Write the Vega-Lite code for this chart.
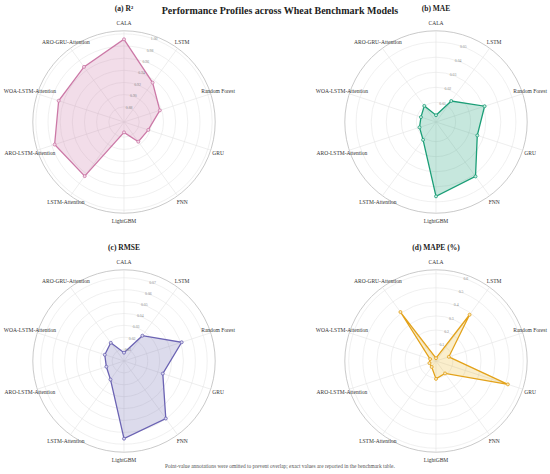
{
  "$schema": "https://vega.github.io/schema/vega-lite/v6.json",
  "background": "white",
  "padding": {"left": 3, "right": 0, "top": 4, "bottom": 2},
  "datasets": {
    "models": [
      {"model": "CALA", "r2": 0.991, "mae": 0.0015, "rmse": 0.007, "mape": 0.0},
      {"model": "LSTM", "r2": 0.935, "mae": 0.0142, "rmse": 0.0263, "mape": 0.386},
      {"model": "Random Forest", "r2": 0.917, "mae": 0.0309, "rmse": 0.051, "mape": 0.076},
      {"model": "GRU", "r2": 0.897, "mae": 0.0258, "rmse": 0.0343, "mape": 0.517},
      {"model": "FNN", "r2": 0.895, "mae": 0.0416, "rmse": 0.0598, "mape": 0.089},
      {"model": "LightGBM", "r2": 0.872, "mae": 0.0463, "rmse": 0.0653, "mape": 0.107},
      {"model": "LSTM-Attention", "r2": 0.965, "mae": 0.0116, "rmse": 0.0193, "mape": 0.032},
      {"model": "ARO-LSTM-Attention", "r2": 0.975, "mae": 0.0085, "rmse": 0.0156, "mape": 0.029},
      {"model": "WOA-LSTM-Attention", "r2": 0.968, "mae": 0.0075, "rmse": 0.017, "mape": 0.024},
      {"model": "ARO-GRU-Attention", "r2": 0.967, "mae": 0.0102, "rmse": 0.0189, "mape": 0.41}
    ],
    "ticks_r2": [{"v": 0.88}, {"v": 0.90}, {"v": 0.92}, {"v": 0.94}, {"v": 0.96}, {"v": 0.98}, {"v": 1.00}],
    "ticks_mae": [{"v": 0.01}, {"v": 0.02}, {"v": 0.03}, {"v": 0.04}, {"v": 0.05}],
    "ticks_rmse": [{"v": 0.01}, {"v": 0.02}, {"v": 0.03}, {"v": 0.04}, {"v": 0.05}, {"v": 0.06}, {"v": 0.07}],
    "ticks_mape": [{"v": 0.1}, {"v": 0.2}, {"v": 0.3}, {"v": 0.4}, {"v": 0.5}, {"v": 0.6}]
  },
  "title": {
    "text": "Performance Profiles across Wheat Benchmark Models",
    "anchor": "middle",
    "fontSize": 10,
    "offset": -11
  },
  "vconcat": [
    {
      "title": {
        "text": "Point-value annotations were omitted to prevent overlap; exact values are reported in the benchmark table.",
        "orient": "bottom",
        "anchor": "middle",
        "fontSize": 5.4,
        "fontWeight": "normal",
        "color": "#555555",
        "offset": 0
      },
      "spacing": 18,
      "vconcat": [
        {
          "spacing": 71,
          "hconcat": [
            {
              "width": 240,
              "height": 206,
              "title": "(a) R²",
              "layer": [
                {
                  "data": {"name": "ticks_r2"},
                  "transform": [{"calculate": "(datum.v - 0.855) / 0.15", "as": "r"}],
                  "mark": {"type": "point", "shape": "circle", "filled": false, "stroke": "#e6e6e6", "strokeWidth": 0.6, "opacity": 1},
                  "encoding": {
                    "x": {"datum": 0, "type": "quantitative", "scale": {"domain": [-1.316, 1.316], "nice": false, "zero": false}, "axis": null},
                    "y": {"datum": 0, "type": "quantitative", "scale": {"domain": [-1.129, 1.129], "nice": false, "zero": false}, "axis": null},
                    "size": {"field": "r", "type": "quantitative", "scale": {"type": "pow", "exponent": 2, "domain": [0, 1], "range": [0, 33270], "zero": true}, "legend": null}
                  }
                },
                {
                  "data": {"values": [{"ring": "outer"}]},
                  "mark": {"type": "point", "shape": "circle", "filled": false, "stroke": "#c4c4c4", "strokeWidth": 0.9, "opacity": 1},
                  "encoding": {
                    "x": {"datum": 0, "type": "quantitative", "scale": {"domain": [-1.316, 1.316], "nice": false, "zero": false}, "axis": null},
                    "y": {"datum": 0, "type": "quantitative", "scale": {"domain": [-1.129, 1.129], "nice": false, "zero": false}, "axis": null},
                    "size": {"datum": 1, "type": "quantitative", "scale": {"type": "pow", "exponent": 2, "domain": [0, 1], "range": [0, 33270], "zero": true}, "legend": null}
                  }
                },
                {
                  "data": {"name": "models"},
                  "transform": [
                    {"window": [{"op": "row_number", "as": "i"}]},
                    {"calculate": "(datum.i - 1) * PI / 5", "as": "a"},
                    {"calculate": "(datum.r2 - 0.855) / 0.15", "as": "r"},
                    {"calculate": "datum.r * sin(datum.a)", "as": "px"},
                    {"calculate": "datum.r * cos(datum.a)", "as": "py"},
                    {"calculate": "sin(datum.a)", "as": "sx"},
                    {"calculate": "cos(datum.a)", "as": "sy"},
                    {"calculate": "1.085 * sin(datum.a)", "as": "lx"},
                    {"calculate": "1.085 * cos(datum.a)", "as": "ly"}
                  ],
                  "layer": [
                    {
                      "mark": {"type": "rule", "stroke": "#e3e3e3", "strokeWidth": 0.6},
                      "encoding": {
                        "x": {"field": "sx", "type": "quantitative", "scale": {"domain": [-1.316, 1.316], "nice": false, "zero": false}, "axis": null},
                        "y": {"field": "sy", "type": "quantitative", "scale": {"domain": [-1.129, 1.129], "nice": false, "zero": false}, "axis": null},
                        "x2": {"datum": 0},
                        "y2": {"datum": 0}
                      }
                    },
                    {
                      "mark": {"type": "line", "interpolate": "linear-closed", "stroke": "#CC79A7", "strokeWidth": 1.3, "fill": "#CC79A7", "fillOpacity": 0.25},
                      "encoding": {
                        "x": {"field": "px", "type": "quantitative", "scale": {"domain": [-1.316, 1.316], "nice": false, "zero": false}, "axis": null},
                        "y": {"field": "py", "type": "quantitative", "scale": {"domain": [-1.129, 1.129], "nice": false, "zero": false}, "axis": null},
                        "order": {"field": "i", "type": "quantitative"}
                      }
                    },
                    {
                      "mark": {"type": "point", "filled": true, "shape": "circle", "size": 9, "fill": "#f2dbe8", "stroke": "#CC79A7", "strokeWidth": 0.8, "opacity": 1},
                      "encoding": {
                        "x": {"field": "px", "type": "quantitative", "scale": {"domain": [-1.316, 1.316], "nice": false, "zero": false}, "axis": null},
                        "y": {"field": "py", "type": "quantitative", "scale": {"domain": [-1.129, 1.129], "nice": false, "zero": false}, "axis": null}
                      }
                    },
                    {
                      "mark": {"type": "text", "fontSize": 5.5, "fill": "#333333"},
                      "encoding": {
                        "x": {"field": "lx", "type": "quantitative", "scale": {"domain": [-1.316, 1.316], "nice": false, "zero": false}, "axis": null},
                        "y": {"field": "ly", "type": "quantitative", "scale": {"domain": [-1.129, 1.129], "nice": false, "zero": false}, "axis": null},
                        "text": {"field": "model"}
                      }
                    }
                  ]
                },
                {
                  "data": {"name": "ticks_r2"},
                  "transform": [
                    {"calculate": "(datum.v - 0.855) / 0.15", "as": "r"},
                    {"calculate": "datum.r * 0.342", "as": "tx"},
                    {"calculate": "datum.r * 0.94", "as": "ty"},
                    {"calculate": "format(datum.v, '.2f')", "as": "t"}
                  ],
                  "mark": {"type": "text", "fontSize": 3.8, "fill": "#8a8a8a"},
                  "encoding": {
                    "x": {"field": "tx", "type": "quantitative", "scale": {"domain": [-1.316, 1.316], "nice": false, "zero": false}, "axis": null},
                    "y": {"field": "ty", "type": "quantitative", "scale": {"domain": [-1.129, 1.129], "nice": false, "zero": false}, "axis": null},
                    "text": {"field": "t"}
                  }
                }
              ]
            },
            {
              "width": 240,
              "height": 206,
              "title": "(b) MAE",
              "layer": [
                {
                  "data": {"name": "ticks_mae"},
                  "transform": [{"calculate": "(datum.v + 0.003) / 0.0605", "as": "r"}],
                  "mark": {"type": "point", "shape": "circle", "filled": false, "stroke": "#e6e6e6", "strokeWidth": 0.6, "opacity": 1},
                  "encoding": {
                    "x": {"datum": 0, "type": "quantitative", "scale": {"domain": [-1.316, 1.316], "nice": false, "zero": false}, "axis": null},
                    "y": {"datum": 0, "type": "quantitative", "scale": {"domain": [-1.129, 1.129], "nice": false, "zero": false}, "axis": null},
                    "size": {"field": "r", "type": "quantitative", "scale": {"type": "pow", "exponent": 2, "domain": [0, 1], "range": [0, 33270], "zero": true}, "legend": null}
                  }
                },
                {
                  "data": {"values": [{"ring": "outer"}]},
                  "mark": {"type": "point", "shape": "circle", "filled": false, "stroke": "#c4c4c4", "strokeWidth": 0.9, "opacity": 1},
                  "encoding": {
                    "x": {"datum": 0, "type": "quantitative", "scale": {"domain": [-1.316, 1.316], "nice": false, "zero": false}, "axis": null},
                    "y": {"datum": 0, "type": "quantitative", "scale": {"domain": [-1.129, 1.129], "nice": false, "zero": false}, "axis": null},
                    "size": {"datum": 1, "type": "quantitative", "scale": {"type": "pow", "exponent": 2, "domain": [0, 1], "range": [0, 33270], "zero": true}, "legend": null}
                  }
                },
                {
                  "data": {"name": "models"},
                  "transform": [
                    {"window": [{"op": "row_number", "as": "i"}]},
                    {"calculate": "(datum.i - 1) * PI / 5", "as": "a"},
                    {"calculate": "(datum.mae + 0.003) / 0.0605", "as": "r"},
                    {"calculate": "datum.r * sin(datum.a)", "as": "px"},
                    {"calculate": "datum.r * cos(datum.a)", "as": "py"},
                    {"calculate": "sin(datum.a)", "as": "sx"},
                    {"calculate": "cos(datum.a)", "as": "sy"},
                    {"calculate": "1.085 * sin(datum.a)", "as": "lx"},
                    {"calculate": "1.085 * cos(datum.a)", "as": "ly"}
                  ],
                  "layer": [
                    {
                      "mark": {"type": "rule", "stroke": "#e3e3e3", "strokeWidth": 0.6},
                      "encoding": {
                        "x": {"field": "sx", "type": "quantitative", "scale": {"domain": [-1.316, 1.316], "nice": false, "zero": false}, "axis": null},
                        "y": {"field": "sy", "type": "quantitative", "scale": {"domain": [-1.129, 1.129], "nice": false, "zero": false}, "axis": null},
                        "x2": {"datum": 0},
                        "y2": {"datum": 0}
                      }
                    },
                    {
                      "mark": {"type": "line", "interpolate": "linear-closed", "stroke": "#1b9e77", "strokeWidth": 1.3, "fill": "#1b9e77", "fillOpacity": 0.25},
                      "encoding": {
                        "x": {"field": "px", "type": "quantitative", "scale": {"domain": [-1.316, 1.316], "nice": false, "zero": false}, "axis": null},
                        "y": {"field": "py", "type": "quantitative", "scale": {"domain": [-1.129, 1.129], "nice": false, "zero": false}, "axis": null},
                        "order": {"field": "i", "type": "quantitative"}
                      }
                    },
                    {
                      "mark": {"type": "point", "filled": true, "shape": "circle", "size": 9, "fill": "#cdebe1", "stroke": "#1b9e77", "strokeWidth": 0.8, "opacity": 1},
                      "encoding": {
                        "x": {"field": "px", "type": "quantitative", "scale": {"domain": [-1.316, 1.316], "nice": false, "zero": false}, "axis": null},
                        "y": {"field": "py", "type": "quantitative", "scale": {"domain": [-1.129, 1.129], "nice": false, "zero": false}, "axis": null}
                      }
                    },
                    {
                      "mark": {"type": "text", "fontSize": 5.5, "fill": "#333333"},
                      "encoding": {
                        "x": {"field": "lx", "type": "quantitative", "scale": {"domain": [-1.316, 1.316], "nice": false, "zero": false}, "axis": null},
                        "y": {"field": "ly", "type": "quantitative", "scale": {"domain": [-1.129, 1.129], "nice": false, "zero": false}, "axis": null},
                        "text": {"field": "model"}
                      }
                    }
                  ]
                },
                {
                  "data": {"name": "ticks_mae"},
                  "transform": [
                    {"calculate": "(datum.v + 0.003) / 0.0605", "as": "r"},
                    {"calculate": "datum.r * 0.342", "as": "tx"},
                    {"calculate": "datum.r * 0.94", "as": "ty"},
                    {"calculate": "format(datum.v, '.2f')", "as": "t"}
                  ],
                  "mark": {"type": "text", "fontSize": 3.8, "fill": "#8a8a8a"},
                  "encoding": {
                    "x": {"field": "tx", "type": "quantitative", "scale": {"domain": [-1.316, 1.316], "nice": false, "zero": false}, "axis": null},
                    "y": {"field": "ty", "type": "quantitative", "scale": {"domain": [-1.129, 1.129], "nice": false, "zero": false}, "axis": null},
                    "text": {"field": "t"}
                  }
                }
              ]
            }
          ]
        },
        {
          "spacing": 71,
          "hconcat": [
            {
              "width": 240,
              "height": 206,
              "title": "(c) RMSE",
              "layer": [
                {
                  "data": {"name": "ticks_rmse"},
                  "transform": [{"calculate": "datum.v / 0.0767", "as": "r"}],
                  "mark": {"type": "point", "shape": "circle", "filled": false, "stroke": "#e6e6e6", "strokeWidth": 0.6, "opacity": 1},
                  "encoding": {
                    "x": {"datum": 0, "type": "quantitative", "scale": {"domain": [-1.316, 1.316], "nice": false, "zero": false}, "axis": null},
                    "y": {"datum": 0, "type": "quantitative", "scale": {"domain": [-1.129, 1.129], "nice": false, "zero": false}, "axis": null},
                    "size": {"field": "r", "type": "quantitative", "scale": {"type": "pow", "exponent": 2, "domain": [0, 1], "range": [0, 33270], "zero": true}, "legend": null}
                  }
                },
                {
                  "data": {"values": [{"ring": "outer"}]},
                  "mark": {"type": "point", "shape": "circle", "filled": false, "stroke": "#c4c4c4", "strokeWidth": 0.9, "opacity": 1},
                  "encoding": {
                    "x": {"datum": 0, "type": "quantitative", "scale": {"domain": [-1.316, 1.316], "nice": false, "zero": false}, "axis": null},
                    "y": {"datum": 0, "type": "quantitative", "scale": {"domain": [-1.129, 1.129], "nice": false, "zero": false}, "axis": null},
                    "size": {"datum": 1, "type": "quantitative", "scale": {"type": "pow", "exponent": 2, "domain": [0, 1], "range": [0, 33270], "zero": true}, "legend": null}
                  }
                },
                {
                  "data": {"name": "models"},
                  "transform": [
                    {"window": [{"op": "row_number", "as": "i"}]},
                    {"calculate": "(datum.i - 1) * PI / 5", "as": "a"},
                    {"calculate": "datum.rmse / 0.0767", "as": "r"},
                    {"calculate": "datum.r * sin(datum.a)", "as": "px"},
                    {"calculate": "datum.r * cos(datum.a)", "as": "py"},
                    {"calculate": "sin(datum.a)", "as": "sx"},
                    {"calculate": "cos(datum.a)", "as": "sy"},
                    {"calculate": "1.085 * sin(datum.a)", "as": "lx"},
                    {"calculate": "1.085 * cos(datum.a)", "as": "ly"}
                  ],
                  "layer": [
                    {
                      "mark": {"type": "rule", "stroke": "#e3e3e3", "strokeWidth": 0.6},
                      "encoding": {
                        "x": {"field": "sx", "type": "quantitative", "scale": {"domain": [-1.316, 1.316], "nice": false, "zero": false}, "axis": null},
                        "y": {"field": "sy", "type": "quantitative", "scale": {"domain": [-1.129, 1.129], "nice": false, "zero": false}, "axis": null},
                        "x2": {"datum": 0},
                        "y2": {"datum": 0}
                      }
                    },
                    {
                      "mark": {"type": "line", "interpolate": "linear-closed", "stroke": "#6b63b3", "strokeWidth": 1.3, "fill": "#7570b3", "fillOpacity": 0.25},
                      "encoding": {
                        "x": {"field": "px", "type": "quantitative", "scale": {"domain": [-1.316, 1.316], "nice": false, "zero": false}, "axis": null},
                        "y": {"field": "py", "type": "quantitative", "scale": {"domain": [-1.129, 1.129], "nice": false, "zero": false}, "axis": null},
                        "order": {"field": "i", "type": "quantitative"}
                      }
                    },
                    {
                      "mark": {"type": "point", "filled": true, "shape": "circle", "size": 9, "fill": "#dcdaee", "stroke": "#6b63b3", "strokeWidth": 0.8, "opacity": 1},
                      "encoding": {
                        "x": {"field": "px", "type": "quantitative", "scale": {"domain": [-1.316, 1.316], "nice": false, "zero": false}, "axis": null},
                        "y": {"field": "py", "type": "quantitative", "scale": {"domain": [-1.129, 1.129], "nice": false, "zero": false}, "axis": null}
                      }
                    },
                    {
                      "mark": {"type": "text", "fontSize": 5.5, "fill": "#333333"},
                      "encoding": {
                        "x": {"field": "lx", "type": "quantitative", "scale": {"domain": [-1.316, 1.316], "nice": false, "zero": false}, "axis": null},
                        "y": {"field": "ly", "type": "quantitative", "scale": {"domain": [-1.129, 1.129], "nice": false, "zero": false}, "axis": null},
                        "text": {"field": "model"}
                      }
                    }
                  ]
                },
                {
                  "data": {"name": "ticks_rmse"},
                  "transform": [
                    {"calculate": "datum.v / 0.0767", "as": "r"},
                    {"calculate": "datum.r * 0.342", "as": "tx"},
                    {"calculate": "datum.r * 0.94", "as": "ty"},
                    {"calculate": "format(datum.v, '.2f')", "as": "t"}
                  ],
                  "mark": {"type": "text", "fontSize": 3.8, "fill": "#8a8a8a"},
                  "encoding": {
                    "x": {"field": "tx", "type": "quantitative", "scale": {"domain": [-1.316, 1.316], "nice": false, "zero": false}, "axis": null},
                    "y": {"field": "ty", "type": "quantitative", "scale": {"domain": [-1.129, 1.129], "nice": false, "zero": false}, "axis": null},
                    "text": {"field": "t"}
                  }
                }
              ]
            },
            {
              "width": 240,
              "height": 206,
              "title": "(d) MAPE (%)",
              "layer": [
                {
                  "data": {"name": "ticks_mape"},
                  "transform": [{"calculate": "(datum.v + 0.02) / 0.648", "as": "r"}],
                  "mark": {"type": "point", "shape": "circle", "filled": false, "stroke": "#e6e6e6", "strokeWidth": 0.6, "opacity": 1},
                  "encoding": {
                    "x": {"datum": 0, "type": "quantitative", "scale": {"domain": [-1.316, 1.316], "nice": false, "zero": false}, "axis": null},
                    "y": {"datum": 0, "type": "quantitative", "scale": {"domain": [-1.129, 1.129], "nice": false, "zero": false}, "axis": null},
                    "size": {"field": "r", "type": "quantitative", "scale": {"type": "pow", "exponent": 2, "domain": [0, 1], "range": [0, 33270], "zero": true}, "legend": null}
                  }
                },
                {
                  "data": {"values": [{"ring": "outer"}]},
                  "mark": {"type": "point", "shape": "circle", "filled": false, "stroke": "#c4c4c4", "strokeWidth": 0.9, "opacity": 1},
                  "encoding": {
                    "x": {"datum": 0, "type": "quantitative", "scale": {"domain": [-1.316, 1.316], "nice": false, "zero": false}, "axis": null},
                    "y": {"datum": 0, "type": "quantitative", "scale": {"domain": [-1.129, 1.129], "nice": false, "zero": false}, "axis": null},
                    "size": {"datum": 1, "type": "quantitative", "scale": {"type": "pow", "exponent": 2, "domain": [0, 1], "range": [0, 33270], "zero": true}, "legend": null}
                  }
                },
                {
                  "data": {"name": "models"},
                  "transform": [
                    {"window": [{"op": "row_number", "as": "i"}]},
                    {"calculate": "(datum.i - 1) * PI / 5", "as": "a"},
                    {"calculate": "(datum.mape + 0.02) / 0.648", "as": "r"},
                    {"calculate": "datum.r * sin(datum.a)", "as": "px"},
                    {"calculate": "datum.r * cos(datum.a)", "as": "py"},
                    {"calculate": "sin(datum.a)", "as": "sx"},
                    {"calculate": "cos(datum.a)", "as": "sy"},
                    {"calculate": "1.085 * sin(datum.a)", "as": "lx"},
                    {"calculate": "1.085 * cos(datum.a)", "as": "ly"}
                  ],
                  "layer": [
                    {
                      "mark": {"type": "rule", "stroke": "#e3e3e3", "strokeWidth": 0.6},
                      "encoding": {
                        "x": {"field": "sx", "type": "quantitative", "scale": {"domain": [-1.316, 1.316], "nice": false, "zero": false}, "axis": null},
                        "y": {"field": "sy", "type": "quantitative", "scale": {"domain": [-1.129, 1.129], "nice": false, "zero": false}, "axis": null},
                        "x2": {"datum": 0},
                        "y2": {"datum": 0}
                      }
                    },
                    {
                      "mark": {"type": "line", "interpolate": "linear-closed", "stroke": "#e3a21a", "strokeWidth": 1.3, "fill": "#e6ab02", "fillOpacity": 0.2},
                      "encoding": {
                        "x": {"field": "px", "type": "quantitative", "scale": {"domain": [-1.316, 1.316], "nice": false, "zero": false}, "axis": null},
                        "y": {"field": "py", "type": "quantitative", "scale": {"domain": [-1.129, 1.129], "nice": false, "zero": false}, "axis": null},
                        "order": {"field": "i", "type": "quantitative"}
                      }
                    },
                    {
                      "mark": {"type": "point", "filled": true, "shape": "circle", "size": 9, "fill": "#f7e6c0", "stroke": "#e3a21a", "strokeWidth": 0.8, "opacity": 1},
                      "encoding": {
                        "x": {"field": "px", "type": "quantitative", "scale": {"domain": [-1.316, 1.316], "nice": false, "zero": false}, "axis": null},
                        "y": {"field": "py", "type": "quantitative", "scale": {"domain": [-1.129, 1.129], "nice": false, "zero": false}, "axis": null}
                      }
                    },
                    {
                      "mark": {"type": "text", "fontSize": 5.5, "fill": "#333333"},
                      "encoding": {
                        "x": {"field": "lx", "type": "quantitative", "scale": {"domain": [-1.316, 1.316], "nice": false, "zero": false}, "axis": null},
                        "y": {"field": "ly", "type": "quantitative", "scale": {"domain": [-1.129, 1.129], "nice": false, "zero": false}, "axis": null},
                        "text": {"field": "model"}
                      }
                    }
                  ]
                },
                {
                  "data": {"name": "ticks_mape"},
                  "transform": [
                    {"calculate": "(datum.v + 0.02) / 0.648", "as": "r"},
                    {"calculate": "datum.r * 0.342", "as": "tx"},
                    {"calculate": "datum.r * 0.94", "as": "ty"},
                    {"calculate": "format(datum.v, '.1f')", "as": "t"}
                  ],
                  "mark": {"type": "text", "fontSize": 3.8, "fill": "#8a8a8a"},
                  "encoding": {
                    "x": {"field": "tx", "type": "quantitative", "scale": {"domain": [-1.316, 1.316], "nice": false, "zero": false}, "axis": null},
                    "y": {"field": "ty", "type": "quantitative", "scale": {"domain": [-1.129, 1.129], "nice": false, "zero": false}, "axis": null},
                    "text": {"field": "t"}
                  }
                }
              ]
            }
          ]
        }
      ]
    }
  ],
  "config": {
    "font": "Liberation Serif",
    "view": {"stroke": null},
    "text": {"font": "Liberation Serif"},
    "title": {"font": "Liberation Serif", "fontSize": 7.5, "fontWeight": "bold", "color": "#222222", "offset": 7}
  }
}
